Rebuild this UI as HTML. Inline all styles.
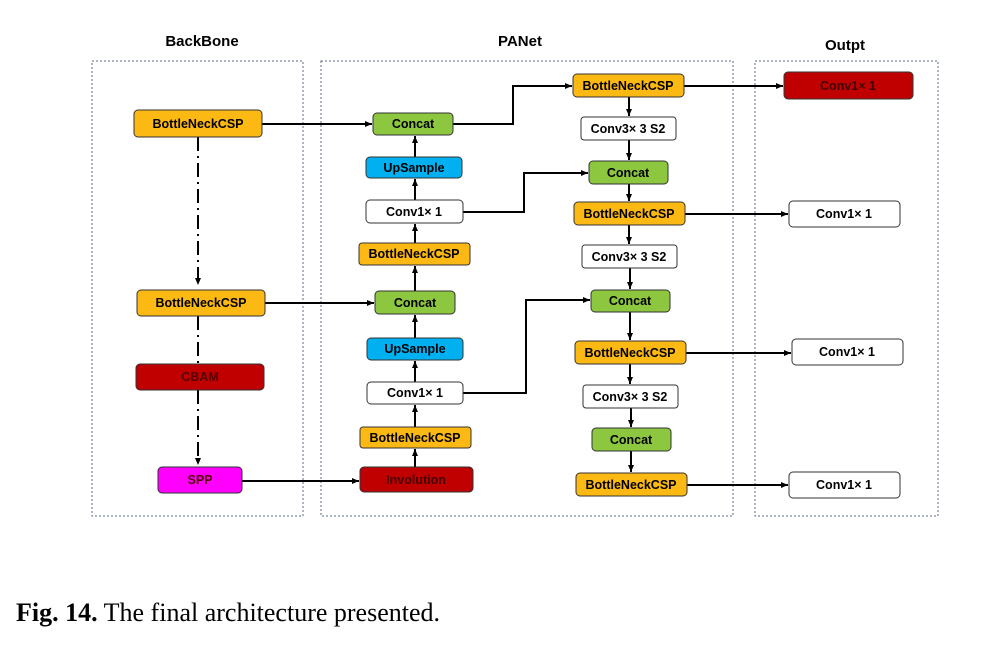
<!DOCTYPE html>
<html><head><meta charset="utf-8"><style>
body{margin:0;background:#fff;width:990px;height:650px;overflow:hidden}
svg{display:block}
.t{font-family:"Liberation Sans",sans-serif;font-weight:bold;font-size:12.5px;text-anchor:middle;dominant-baseline:central}
.h{font-family:"Liberation Sans",sans-serif;font-weight:bold;font-size:15px;text-anchor:middle}
</style></head><body>
<svg width="990" height="650" viewBox="0 0 990 650">
<defs><marker id="a" markerWidth="8" markerHeight="8" refX="7" refY="4" orient="auto" markerUnits="userSpaceOnUse"><path d="M0,1 L7,4 L0,7z" fill="#000"/></marker></defs>
<g fill="none" stroke="#5a6a8a" stroke-width="1" stroke-dasharray="2,2">
<rect x="92" y="61" width="211" height="455"/>
<rect x="321" y="61" width="412" height="455"/>
<rect x="755" y="61" width="183" height="455"/>
</g>
<text class="h" x="202" y="46">BackBone</text>
<text class="h" x="520" y="46">PANet</text>
<text class="h" x="845" y="50">Outpt</text>
<g stroke="#000" stroke-width="2" fill="none">
<path d="M198 137 V285" stroke-dasharray="14,5,2,5" marker-end="url(#a)"/>
<path d="M198 316 V364" stroke-dasharray="14,5,2,5"/>
<path d="M198 390 V465" stroke-dasharray="14,5,2,5" marker-end="url(#a)"/>
<path d="M262 124 H372" marker-end="url(#a)"/>
<path d="M265 303 H374" marker-end="url(#a)"/>
<path d="M242 481 H359" marker-end="url(#a)"/>
<path d="M415 467 V449" marker-end="url(#a)"/>
<path d="M415 427 V405" marker-end="url(#a)"/>
<path d="M415 382 V361" marker-end="url(#a)"/>
<path d="M415 338 V315" marker-end="url(#a)"/>
<path d="M415 291 V266" marker-end="url(#a)"/>
<path d="M415 243 V224" marker-end="url(#a)"/>
<path d="M415 200 V179" marker-end="url(#a)"/>
<path d="M415 157 V136" marker-end="url(#a)"/>
<path d="M453 124 H513 V86 H572" marker-end="url(#a)"/>
<path d="M463 212 H524 V173 H588" marker-end="url(#a)"/>
<path d="M463 393 H526 V300 H590" marker-end="url(#a)"/>
<path d="M629 97 V116" marker-end="url(#a)"/>
<path d="M629 140 V160" marker-end="url(#a)"/>
<path d="M629 184 V201" marker-end="url(#a)"/>
<path d="M629 225 V244" marker-end="url(#a)"/>
<path d="M630 268 V289" marker-end="url(#a)"/>
<path d="M630 312 V340" marker-end="url(#a)"/>
<path d="M630 364 V384" marker-end="url(#a)"/>
<path d="M631 408 V427" marker-end="url(#a)"/>
<path d="M631 451 V472" marker-end="url(#a)"/>
<path d="M684 86 H783" marker-end="url(#a)"/>
<path d="M685 214 H788" marker-end="url(#a)"/>
<path d="M686 353 H791" marker-end="url(#a)"/>
<path d="M687 485 H788" marker-end="url(#a)"/>
</g>
<g stroke="#333" stroke-width="1">
<rect x="134" y="110" width="128" height="27" rx="4" fill="#fdb913"/>
<rect x="137" y="290" width="128" height="26" rx="4" fill="#fdb913"/>
<rect x="136" y="364" width="128" height="26" rx="4" fill="#c00000"/>
<rect x="158" y="467" width="84" height="26" rx="4" fill="#ff00ff"/>
<rect x="373" y="113" width="80" height="22" rx="4" fill="#8dc63f"/>
<rect x="366" y="157" width="96" height="21" rx="4" fill="#00b0f0"/>
<rect x="366" y="200" width="97" height="23" rx="4" fill="#fff"/>
<rect x="359" y="243" width="111" height="22" rx="3" fill="#fdb913"/>
<rect x="375" y="291" width="80" height="23" rx="4" fill="#8dc63f"/>
<rect x="367" y="338" width="96" height="22" rx="4" fill="#00b0f0"/>
<rect x="367" y="382" width="96" height="22" rx="4" fill="#fff"/>
<rect x="360" y="427" width="111" height="21" rx="3" fill="#fdb913"/>
<rect x="360" y="467" width="113" height="25" rx="4" fill="#c00000"/>
<rect x="573" y="74" width="111" height="23" rx="4" fill="#fdb913"/>
<rect x="581" y="117" width="95" height="23" rx="3" fill="#fff"/>
<rect x="589" y="161" width="79" height="23" rx="4" fill="#8dc63f"/>
<rect x="574" y="202" width="111" height="23" rx="4" fill="#fdb913"/>
<rect x="582" y="245" width="95" height="23" rx="3" fill="#fff"/>
<rect x="591" y="290" width="79" height="22" rx="4" fill="#8dc63f"/>
<rect x="575" y="341" width="111" height="23" rx="4" fill="#fdb913"/>
<rect x="583" y="385" width="95" height="23" rx="3" fill="#fff"/>
<rect x="592" y="428" width="79" height="23" rx="4" fill="#8dc63f"/>
<rect x="576" y="473" width="111" height="23" rx="4" fill="#fdb913"/>
<rect x="784" y="72" width="129" height="27" rx="4" fill="#c00000"/>
<rect x="789" y="201" width="111" height="26" rx="4" fill="#fff"/>
<rect x="792" y="339" width="111" height="26" rx="4" fill="#fff"/>
<rect x="789" y="472" width="111" height="26" rx="4" fill="#fff"/>
</g>
<g>
<text class="t" x="198" y="124">BottleNeckCSP</text>
<text class="t" x="201" y="303">BottleNeckCSP</text>
<text class="t" x="200" y="377" fill="#500">CBAM</text>
<text class="t" x="200" y="480" fill="#500">SPP</text>
<text class="t" x="413" y="124">Concat</text>
<text class="t" x="414" y="168">UpSample</text>
<text class="t" x="414" y="212" font-weight="normal">Conv1× 1</text>
<text class="t" x="414" y="254">BottleNeckCSP</text>
<text class="t" x="415" y="303">Concat</text>
<text class="t" x="415" y="349">UpSample</text>
<text class="t" x="415" y="393" font-weight="normal">Conv1× 1</text>
<text class="t" x="415" y="438">BottleNeckCSP</text>
<text class="t" x="416" y="480" fill="#400">Involution</text>
<text class="t" x="628" y="86">BottleNeckCSP</text>
<text class="t" x="628" y="129">Conv3× 3 S2</text>
<text class="t" x="628" y="173">Concat</text>
<text class="t" x="629" y="214">BottleNeckCSP</text>
<text class="t" x="629" y="257">Conv3× 3 S2</text>
<text class="t" x="630" y="301">Concat</text>
<text class="t" x="630" y="353">BottleNeckCSP</text>
<text class="t" x="630" y="397">Conv3× 3 S2</text>
<text class="t" x="631" y="440">Concat</text>
<text class="t" x="631" y="485">BottleNeckCSP</text>
<text class="t" x="848" y="86" fill="#400">Conv1× 1</text>
<text class="t" x="844" y="214">Conv1× 1</text>
<text class="t" x="847" y="352">Conv1× 1</text>
<text class="t" x="844" y="485">Conv1× 1</text>
</g>
<text x="16" y="621" font-family="'Liberation Serif',serif" font-size="26"><tspan font-weight="bold">Fig. 14.</tspan> The final architecture presented.</text>
</svg>
</body></html>
